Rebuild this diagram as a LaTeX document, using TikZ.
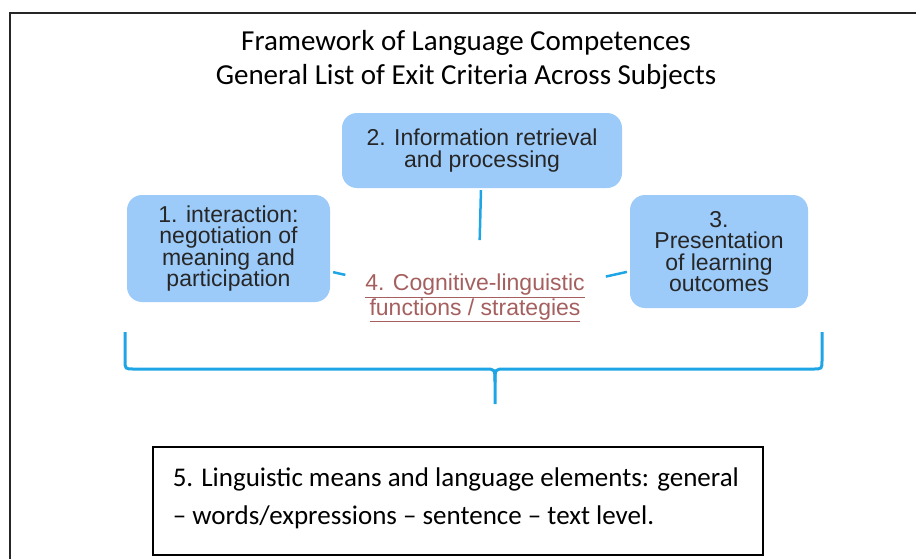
\documentclass[tikz,border=0pt]{standalone}
\usepackage{fontspec}
\setmainfont{Carlito}
\newfontfamily\boxfont{Liberation Sans}
\usepackage{tikz}

\definecolor{boxblue}{RGB}{157,203,249}
\definecolor{spokeblue}{RGB}{30,165,230}
\definecolor{cogred}{RGB}{165,95,95}

\tikzset{
  compbox/.style={fill=boxblue, rounded corners=15pt, inner sep=0pt, align=center,
    font=\boxfont\fontsize{23}{21.5}\selectfont, text=black!85},
  spoke/.style={draw=spokeblue, line width=2.5pt},
}

\begin{document}
\begin{tikzpicture}[x=1pt,y=-1pt]

\useasboundingbox (0,0) rectangle (916,558);

% outer frame, cut off at the right and at the bottom
\draw[line width=2pt, black!85] (10,13) rectangle (940,590);

% title
\node[font=\fontsize{29}{34}\selectfont, align=center] (title) at (466,60)
  {Framework of Language Competences\\General List of Exit Criteria Across Subjects};

% the three competence boxes
\node[compbox, minimum width=203pt, minimum height=107pt] (inter) at (228.5,248.5)
  {1. interaction:\\negotiation of\\meaning and\\participation};
\node[compbox, minimum width=280pt, minimum height=75pt] (info) at (482,150.5)
  {2. Information retrieval\\and processing};
\node[compbox, minimum width=178pt, minimum height=113pt] (pres) at (719,251.5)
  {3.\\Presentation\\of learning\\outcomes};

% the centre text
\node[font=\boxfont\fontsize{23}{21}\selectfont, text=cogred, align=center] (cog) at (475,298)
  {\underline{4. Cognitive-linguistic}\\\underline{functions / strategies}};

% the spokes point at the centre
\coordinate (hub) at (478,305);

\draw[spoke, shorten <=3pt, shorten >=136pt] (inter) -- (hub);
\draw[spoke, shorten <=2pt, shorten >=65pt] (info) -- (hub);
\draw[spoke, shorten <=3pt, shorten >=131pt] (pres) -- (hub);

% the curly bracket below
\coordinate (stem) at (495,404);
\draw[spokeblue, line width=3pt] (125,332) -- (125,360) .. controls (125,369) .. (134,369)
  -- (485,369) .. controls (495,369) .. (495,382) -- (stem);
\draw[spokeblue, line width=3pt] (822,332) -- (822,360) .. controls (822,369) .. (813,369)
  -- (505,369) .. controls (495,369) .. (495,382);

% box 5
\node[draw, line width=1.5pt, minimum width=610pt, minimum height=108pt] (means) at (458,501) {};
\node[align=left, font=\fontsize{27}{38}\selectfont, anchor=west] (meanstext)
  at ([xshift=17pt,yshift=3pt]means.west)
  {5. Linguistic means and language elements: general\\– words/expressions – sentence – text level.};

\end{tikzpicture}
\end{document}
